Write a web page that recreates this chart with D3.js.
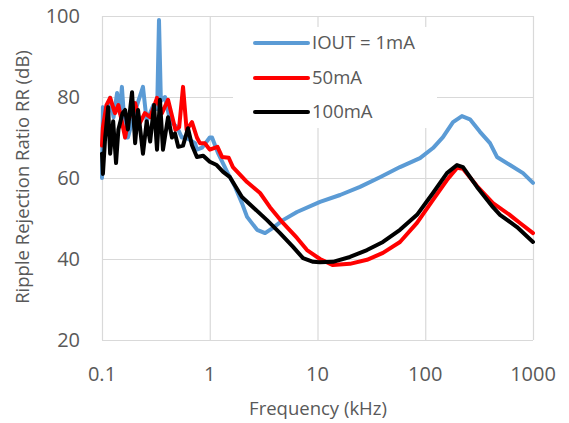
<!DOCTYPE html>
<html><head><meta charset="utf-8">
<script src="https://cdn.jsdelivr.net/npm/d3@7"></script>
<style>
html,body{margin:0;padding:0;background:#fff;}
svg{display:block;font-family:"Open Sans",sans-serif;}
</style></head>
<body><svg id="c" width="569" height="423"></svg>
<script>
// Frequency (kHz) and ripple rejection (dB) per series
const freq1mA = [0.1,0.102,0.11,0.119,0.128,0.138,0.146,0.153,0.165,0.174,0.2,0.24,0.26,0.3,0.325,0.338,0.352,0.384,0.43,0.497,0.55,0.6,0.73,0.76,0.85,1.0,1.05,1.2,1.45,1.72,1.99,2.22,2.75,3.26,3.86,4.78,6.45,10.55,16.2,24.8,38,58.3,89.4,118,146,181,219,260,322,399,463,612,808,1000];
const rr1mA   = [60,77.5,72,79.8,75,81,76,82.5,70,70,76,82.5,74,78,77,99,79,80,74,72.6,70,70,68.6,67,67.5,70,70,66,61.5,57.8,53.8,50.4,47.2,46.4,47.7,49.6,51.6,54.1,55.8,57.8,60.2,62.7,64.9,67.4,70.1,73.8,75.3,74.5,71.4,68.6,65.2,63.2,61.2,58.8];

const freq50mA = [0.1,0.102,0.11,0.119,0.132,0.142,0.164,0.174,0.203,0.225,0.25,0.28,0.324,0.36,0.41,0.48,0.52,0.565,0.61,0.684,0.76,0.81,0.9,1.0,1.18,1.3,1.5,1.64,2.22,2.93,3.62,4.78,6.45,7.99,10.55,13.9,20,28.8,40.5,58.3,83.8,118,159,197,224,302,425,600,757,1000];
const rr50mA   = [68,72.6,78,79.8,76,78,70,74,78.5,73.6,76,75,79.8,76,79.3,71.9,72.5,82.5,71.9,73.8,70,68.6,68.6,67,67.7,65.2,65,62.7,59,56.3,52.8,48.9,45.2,42.2,40,38.5,38.8,39.8,41.5,44.2,48.9,54.6,59.5,62.5,62.3,58,53.8,51,48.9,46.4];

const freq100mA = [0.1,0.102,0.107,0.114,0.119,0.127,0.135,0.142,0.155,0.164,0.174,0.19,0.203,0.216,0.24,0.26,0.28,0.304,0.324,0.345,0.368,0.41,0.446,0.476,0.51,0.565,0.628,0.684,0.76,0.87,1.0,1.16,1.33,1.54,1.99,2.52,3.4,4.49,5.93,7.34,9.1,10.5,13.9,20,28.8,40.5,58.3,83.8,118,159,197,224,302,425,494,710,1000];
const rr100mA   = [66,61,70,77.5,66,74,63.7,72,76,76.8,72,81.2,68.6,76.8,66,74,69,78,67,79.3,67,75,70,71,67.7,68,72.3,68.1,65.2,65.5,64,63.2,61.5,60.2,55.3,52.8,49.6,46.4,43,40.2,39.3,39.2,39.3,40.5,42.2,44.2,47.2,50.9,56.3,61.2,63.2,62.7,57.8,52.8,50.9,47.9,44.2];

const seriesNames = ["IOUT = 1mA","50mA","100mA"];
const seriesColors = ["#5b9bd5","#ff0000","#000000"];
const xTicks = [0.1,1,10,100,1000];
const xTickLabels = ["0.1","1","10","100","1000"];
const yTicks = [20,40,60,80,100];
const xTitle = "Frequency (kHz)";
const yTitle = "Ripple Rejection Ratio RR (dB)";

const series = [
  {name: seriesNames[0], color: seriesColors[0], f: freq1mA, v: rr1mA},
  {name: seriesNames[1], color: seriesColors[1], f: freq50mA, v: rr50mA},
  {name: seriesNames[2], color: seriesColors[2], f: freq100mA, v: rr100mA}
];

const svg = d3.select("#c");
const x = d3.scaleLog().domain([0.1,1000]).range([102,533]);
const y = d3.scaleLinear().domain([20,100]).range([340,16]);
const grid = "#d9d9d9", txt = "#595959";

// horizontal gridlines
svg.append("g").attr("transform","translate(102,0)")
  .call(d3.axisLeft(y).tickValues(yTicks).tickSize(-(533-102)).tickFormat(""))
  .call(g=>{g.select(".domain").remove(); g.selectAll("line").attr("stroke",grid).attr("stroke-width",1.2);});
// vertical gridlines
svg.append("g").attr("transform","translate(0,340)")
  .call(d3.axisBottom(x).tickValues(xTicks).tickSize(-(340-16)).tickFormat(""))
  .call(g=>{g.select(".domain").remove(); g.selectAll("line").attr("stroke",grid).attr("stroke-width",1.2);});

// tick labels
svg.append("g").selectAll("text").data(yTicks).join("text")
  .attr("x",80).attr("y",d=>y(d)).attr("dy","0.35em").attr("text-anchor","end")
  .attr("font-size",20).attr("fill",txt).text(d=>d);
svg.append("g").selectAll("text").data(xTicks).join("text")
  .attr("x",d=>x(d)).attr("y",381).attr("text-anchor","middle")
  .attr("font-size",20).attr("fill",txt).text((d,i)=>xTickLabels[i]);

// axis titles
svg.append("text").attr("x",318).attr("y",415).attr("text-anchor","middle")
  .attr("font-size",18.5).attr("fill",txt).text(xTitle);
svg.append("text").attr("transform","translate(29,177) rotate(-90)").attr("text-anchor","middle")
  .attr("font-size",18.5).attr("fill",txt).text(yTitle);

// lines
const line = d3.line().x(d=>x(d[0])).y(d=>y(d[1]));
svg.append("g").selectAll("path").data(series).join("path")
  .attr("d",s=>line(s.f.map((f,i)=>[f,s.v[i]])))
  .attr("fill","none").attr("stroke",s=>s.color).attr("stroke-width",4)
  .attr("stroke-linejoin","round").attr("stroke-linecap","round");

// legend
const lg = svg.append("g");
lg.append("rect").attr("x",233).attr("y",27).attr("width",204).attr("height",101).attr("fill","#fff");
const ly = [43,78,112];
series.forEach((s,i)=>{
  lg.append("line").attr("x1",255).attr("x2",308).attr("y1",ly[i]).attr("y2",ly[i])
    .attr("stroke",s.color).attr("stroke-width",4).attr("stroke-linecap","round");
  lg.append("text").attr("x",312).attr("y",ly[i]).attr("dy","0.35em")
    .attr("font-size",18.5).attr("fill",txt).text(s.name);
});
</script></body></html>
